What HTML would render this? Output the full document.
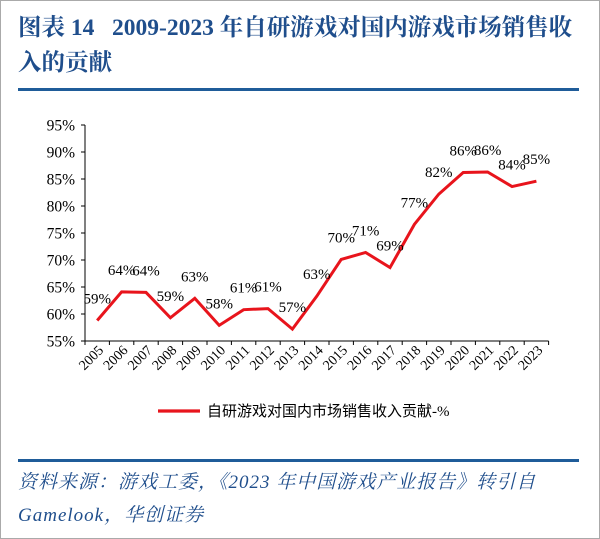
<!DOCTYPE html>
<html><head><meta charset="utf-8"><style>
body{margin:0;width:600px;height:539px;overflow:hidden;background:#fff}
.wrap{position:absolute;left:0;top:0;width:598px;height:537px;border:1px solid #aaa;}
.title{position:absolute;left:17px;top:10px;font:bold 23.5px "Liberation Serif","Noto Serif CJK SC",serif;color:#1f4e8c;line-height:35px;white-space:nowrap}
.rule{position:absolute;left:17px;width:561px;height:3px;background:#1f5c99}
.src{position:absolute;left:17px;font:italic 19px "Liberation Serif","Noto Serif CJK SC",serif;color:#1f4e8c;white-space:nowrap;letter-spacing:1px}
</style></head><body>
<div class="wrap">
<div class="title">图表 14&nbsp;&nbsp; 2009-2023 年自研游戏对国内游戏市场销售收<br>入的贡献</div>
<div class="rule" style="top:87px"></div>
<svg id="c" width="600" height="539" style="position:absolute;left:-1px;top:-1px"></svg>
<div class="rule" style="top:458px"></div>
<div class="src" style="top:466px">资料来源：游戏工委，《2023 年中国游戏产业报告》转引自</div>
<div class="src" style="top:499px">Gamelook，华创证券</div>
</div>
<script>
const years=["2005","2006","2007","2008","2009","2010","2011","2012","2013","2014","2015","2016","2017","2018","2019","2020","2021","2022","2023"];
const values=[58.8,64.1,64.0,59.3,62.9,57.9,60.8,61.0,57.2,63.3,70.1,71.4,68.6,76.6,82.2,86.2,86.3,83.6,84.6];
const labels=["59%","64%","64%","59%","63%","58%","61%","61%","57%","63%","70%","71%","69%","77%","82%","86%","86%","84%","85%"];
const yTicks=[55,60,65,70,75,80,85,90,95];
const NS="http://www.w3.org/2000/svg",svg=document.getElementById('c');
const x0=85,bw=24.4,yTop=125,yBot=341,vMin=55,vMax=95;
const X=i=>x0+bw*(i+0.5);
const Y=v=>yBot-(v-vMin)/(vMax-vMin)*(yBot-yTop);
function mk(t,a,txt){const e=document.createElementNS(NS,t);for(const k in a)e.setAttribute(k,a[k]);if(txt!=null)e.textContent=txt;svg.appendChild(e);return e;}
const F='"Liberation Serif",serif';
let e=mk('line',{x1:x0,y1:yTop,x2:x0,y2:yBot,stroke:'#000','stroke-width':1});

e=mk('line',{x1:x0,y1:yBot,x2:x0+bw*years.length,y2:yBot,stroke:'#000','stroke-width':1});

yTicks.forEach(v=>{
 mk('line',{x1:x0-4,y1:Y(v),x2:x0,y2:Y(v),stroke:'#000'});
 e=mk('text',{x:x0-10,y:Y(v)+5.5,'text-anchor':'end','font-family':F,'font-size':15.5},v+'%');
 
});
for(let i=0;i<=years.length;i++)mk('line',{x1:x0+bw*i,y1:yBot,x2:x0+bw*i,y2:yBot+4,stroke:'#000'});
years.forEach((y,i)=>{
 const tx=X(i)+7,ty=yBot+10;
 e=mk('text',{x:tx,y:ty,'text-anchor':'end','font-family':F,'font-size':14,transform:`rotate(-45 ${tx} ${ty})`},y);
 
});
e=mk('polyline',{points:values.map((v,i)=>X(i)+','+Y(v)).join(' '),fill:'none',stroke:'#e8141c','stroke-width':3,'stroke-linejoin':'miter'});

values.forEach((v,i)=>{
 e=mk('text',{x:X(i),y:Y(v)-17,'text-anchor':'middle','font-family':F,'font-size':15},labels[i]);
 
});
e=mk('line',{x1:158,y1:411,x2:200,y2:411,stroke:'#e8141c','stroke-width':3.2});

e=mk('text',{x:207,y:416,'font-family':'"Liberation Serif","Noto Sans CJK SC",sans-serif','font-size':15},'自研游戏对国内市场销售收入贡献-%');

</script>
</body></html>
